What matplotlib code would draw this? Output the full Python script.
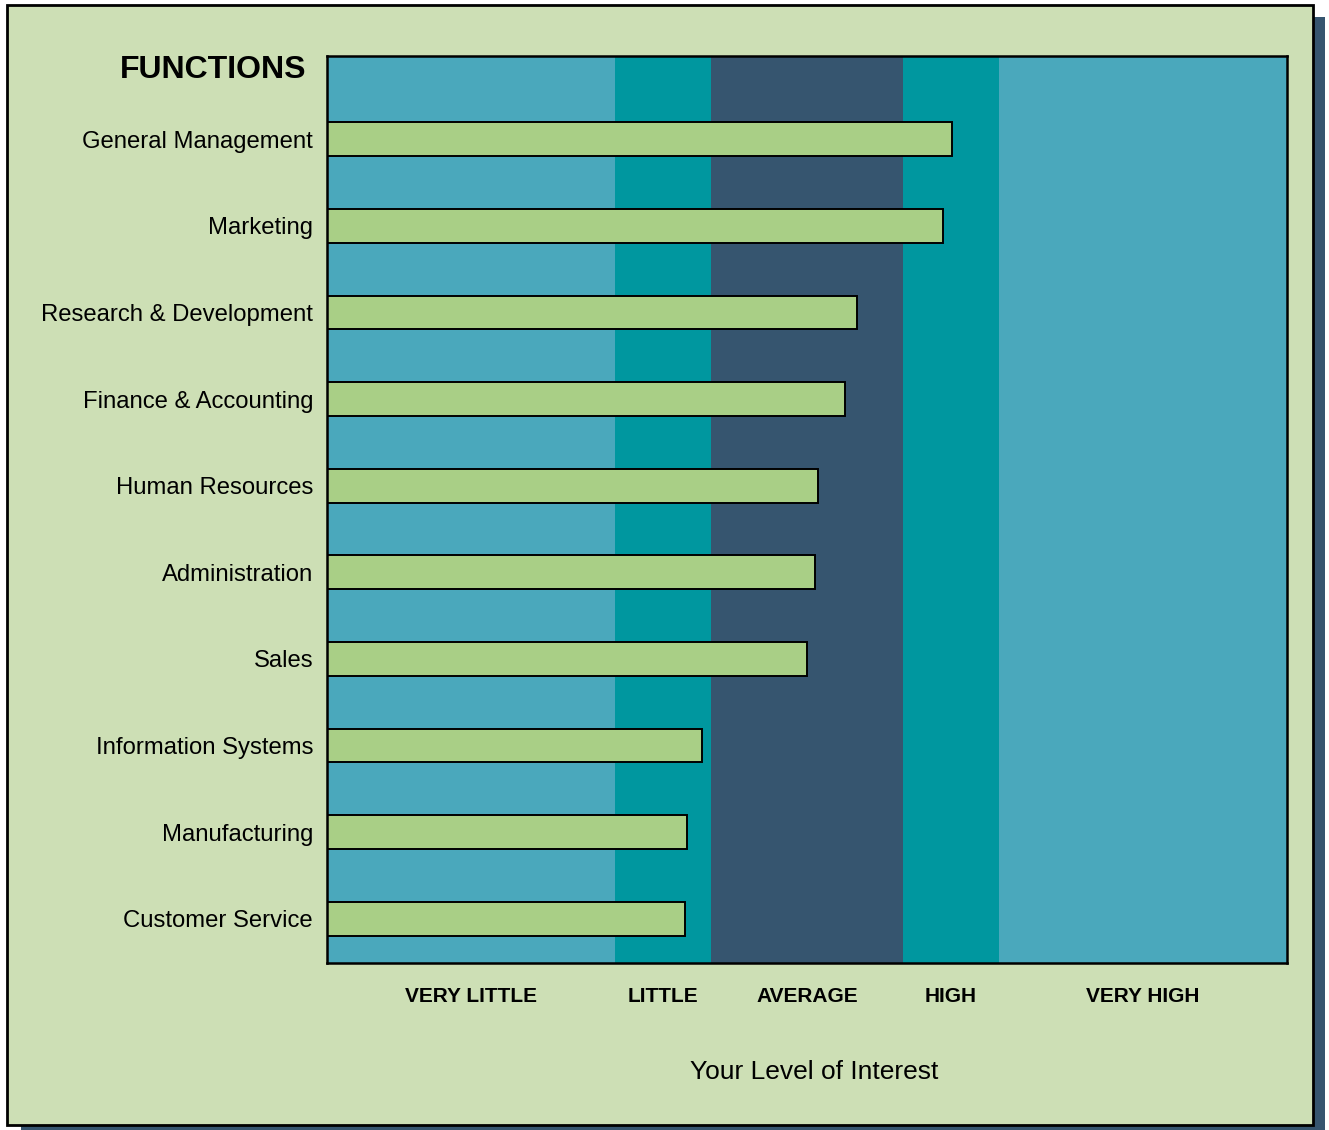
import matplotlib
matplotlib.use('agg')
import matplotlib.pyplot as plt
from matplotlib.patches import Rectangle
import numpy as np

plt.rcParams['font.family'] = ['Liberation Sans', 'DejaVu Sans']

functions = ['General Management', 'Marketing', 'Research & Development',
             'Finance & Accounting', 'Human Resources', 'Administration',
             'Sales', 'Information Systems', 'Manufacturing', 'Customer Service']
interest = [6.51, 6.42, 5.52, 5.40, 5.11, 5.08, 5.00, 3.91, 3.75, 3.73]

band_edges = [0, 3, 4, 6, 7, 10]
band_labels = ['VERY LITTLE', 'LITTLE', 'AVERAGE', 'HIGH', 'VERY HIGH']
band_colors = ['#4aa8bc', '#00979f', '#36556f', '#00979f', '#4aa8bc']

bg = '#cddfb5'
bar_color = '#a9cf86'
shadow = '#36556f'

W, H = 1329, 1130
fig = plt.figure(figsize=(W / 100, H / 100), dpi=100)
fig.patch.set_facecolor('white')

# shadow + framed panel
fig.patches.append(Rectangle((21 / W, 0), (1325 - 21) / W, (H - 17) / H,
                             transform=fig.transFigure, facecolor=shadow,
                             edgecolor='none', zorder=0))
fig.patches.append(Rectangle((7 / W, 1 - 1125 / H), (1313 - 7) / W, (1125 - 5) / H,
                             transform=fig.transFigure, facecolor=bg,
                             edgecolor='black', linewidth=2, zorder=1))

ax = fig.add_axes([327 / W, 1 - 963 / H, (1287 - 327) / W, (963 - 56) / H])
ax.set_zorder(2)

for lo, hi, c in zip(band_edges[:-1], band_edges[1:], band_colors):
    ax.axvspan(lo, hi, color=c, lw=0, zorder=0)

y = np.arange(len(functions))
ax.barh(y, interest, height=0.39, color=bar_color, edgecolor='black',
        linewidth=1.4, zorder=2)

ax.set_xlim(0, 10)
ax.set_ylim(9.51, -0.96)

ax.set_yticks(y)
ax.set_yticklabels(functions, fontsize=17.2)
ax.tick_params(axis='y', length=0, pad=10)

centers = [(a + b) / 2 for a, b in zip(band_edges[:-1], band_edges[1:])]
ax.set_xticks(centers)
ax.set_xticklabels(band_labels, fontsize=15, fontweight='bold')
ax.tick_params(axis='x', length=0, pad=17)

for s in ax.spines.values():
    s.set_linewidth(1.8)

fig.text(306 / W, 1 - 70 / H, 'FUNCTIONS', ha='right', va='center',
         fontsize=23, fontweight='bold')
fig.text(814 / W, 1 - 1072 / H, 'Your Level of Interest', ha='center',
         va='center', fontsize=19)

fig.savefig('out.png', dpi=100)
